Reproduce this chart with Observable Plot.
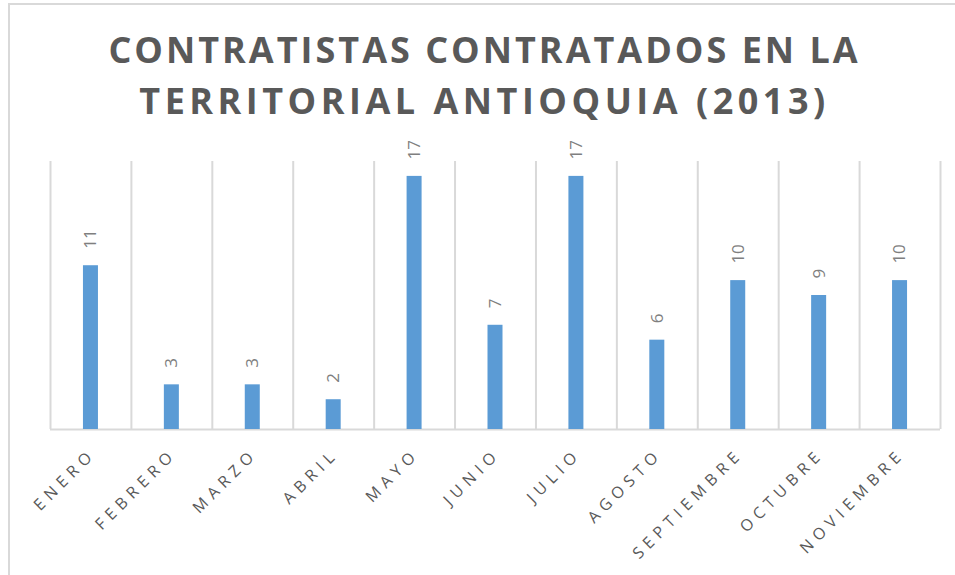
<!DOCTYPE html>
<html>
<head>
<meta charset="utf-8">
<script src="https://cdn.jsdelivr.net/npm/d3@7"></script>
<script src="https://cdn.jsdelivr.net/npm/@observablehq/plot@0.6"></script>
<style>
  html, body { margin: 0; padding: 0; background: #fff; }
  #wrap { position: relative; width: 955px; height: 575px; overflow: hidden; font-family: "Open Sans", sans-serif; }
  #frame { position: absolute; left: 8px; top: 3px; right: -5px; bottom: -5px; border-left: 2px solid #d9d9d9; border-top: 2px solid #d9d9d9; pointer-events: none; }
  #title { height: 127px; box-sizing: border-box; padding-top: 24px; padding-left: 14px; text-align: center; color: #595959; font-weight: 700; font-size: 36px; line-height: 51px; }
  #title .l1 { letter-spacing: 3px; }
  #title .l2 { letter-spacing: 4.5px; }
  svg { display: block; }
</style>
</head>
<body>
<div id="wrap">
  <div id="frame"></div>
  <div id="title"><span class="l1">CONTRATISTAS CONTRATADOS EN LA</span><br><span class="l2">TERRITORIAL ANTIOQUIA (2013)</span></div>
  <div id="chart"></div>
</div>
<script>
const months = ["ENERO", "FEBRERO", "MARZO", "ABRIL", "MAYO", "JUNIO", "JULIO", "AGOSTO", "SEPTIEMBRE", "OCTUBRE", "NOVIEMBRE"];
const values = [11, 3, 3, 2, 17, 7, 17, 6, 10, 9, 10];
const yMax = 18;

const data = months.map((m, i) => ({month: m, value: values[i]}));

const W = 955, H = 448, mL = 50, mR = 15, mT = 34, mB = 146;
const step = (W - mL - mR) / months.length;
const barW = 15;
const pInner = 1 - barW / step;

const chart = Plot.plot({
  width: W,
  height: H,
  marginTop: mT,
  marginLeft: mL,
  marginRight: mR,
  marginBottom: mB,
  style: {fontFamily: "'Open Sans', sans-serif", background: "transparent"},
  x: {type: "band", domain: months, paddingInner: pInner, paddingOuter: pInner / 2, round: false, axis: null},
  y: {domain: [0, yMax], axis: null},
  marks: [
    Plot.ruleX(months, {x: d => d, dx: -step / 2, stroke: "#d9d9d9", strokeWidth: 2}),
    Plot.ruleX(months.slice(-1), {x: d => d, dx: step / 2, stroke: "#d9d9d9", strokeWidth: 2}),
    Plot.ruleY([0], {stroke: "#d9d9d9", strokeWidth: 2}),
    Plot.barY(data, {x: "month", y: "value", fill: "#5B9BD5"}),
    Plot.text(data, {x: "month", y: "value", text: d => String(d.value), rotate: -90, textAnchor: "start", lineAnchor: "middle", dy: -17, fill: "#7f7f7f", fontSize: 17}),
    Plot.text(months, {x: d => d, frameAnchor: "bottom", text: d => d, rotate: -45, textAnchor: "end", lineAnchor: "middle", dx: 2, dy: 22, fill: "#595959", fontSize: 16})
  ]
});
d3.select(chart).selectAll("text").filter(function() { return months.includes(this.textContent); })
  .style("letter-spacing", "5.5px");
document.getElementById("chart").appendChild(chart);
</script>
</body>
</html>
